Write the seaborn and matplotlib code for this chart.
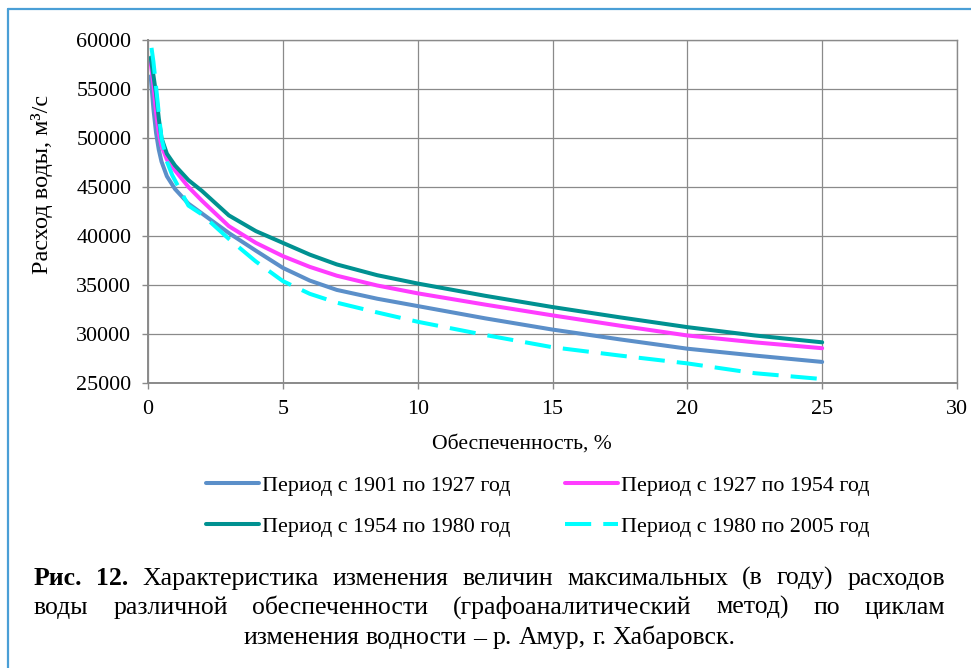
import matplotlib
matplotlib.use("Agg")
import matplotlib.pyplot as plt
from matplotlib.lines import Line2D
import numpy as np
import pandas as pd
import seaborn as sns

# ---------------- data ----------------
periods = ["Период с 1901 по 1927 год", "Период с 1927 по 1954 год",
           "Период с 1954 по 1980 год", "Период с 1980 по 2005 год"]
colors = ["#5b8fc9", "#ff3cff", "#009191", "#00ffff"]

x_1901 = [0.1, 0.2, 0.3, 0.4, 0.5, 0.7, 1, 1.5, 2, 3, 4, 5, 6, 7, 8.5, 10, 12.5, 15, 17.5, 20, 22.5, 25]
y_1901 = [56300, 53000, 50500, 48800, 47600, 46100, 44800, 43300, 42300, 40300, 38500, 36750, 35450,
          34500, 33600, 32850, 31600, 30450, 29450, 28500, 27800, 27150]

x_1927 = [0.1, 0.2, 0.3, 0.4, 0.5, 0.7, 1, 1.5, 2, 3, 4, 5, 6, 7, 8.5, 10, 12.5, 15, 17.5, 20, 22.5, 25]
y_1927 = [57700, 55500, 52600, 50500, 49200, 47800, 46700, 45000, 43600, 41000, 39300, 37950, 36850,
          35950, 34950, 34150, 33000, 31900, 30850, 29850, 29150, 28550]

x_1954 = [0.1, 0.2, 0.3, 0.4, 0.5, 0.7, 1, 1.5, 2, 3, 4, 5, 6, 7, 8.5, 10, 12.5, 15, 17.5, 20, 22.5, 25]
y_1954 = [58200, 56400, 54500, 52000, 50000, 48400, 47200, 45700, 44600, 42100, 40500, 39300, 38100,
          37100, 36000, 35150, 33900, 32750, 31700, 30700, 29850, 29150]

x_1980 = [0.13, 0.2, 0.3, 0.4, 0.5, 0.7, 0.9, 1.5, 2, 3, 4, 5, 6, 7, 8.5, 10, 12.5, 15, 17.5, 20, 22.5, 24.8]
y_1980 = [59200, 57800, 55200, 52500, 50000, 47600, 46200, 43100, 42200, 39700, 37400, 35400, 34100,
          33200, 32200, 31250, 29900, 28650, 27800, 27000, 26000, 25450]

x_ticks = [0, 5, 10, 15, 20, 25, 30]
y_ticks = [25000, 30000, 35000, 40000, 45000, 50000, 55000, 60000]

x_label = "Обеспеченность, %"
y_label = "Расход воды, м³/с"

caption_lines = [
    [("Рис.", True), ("12.", True), ("Характеристика", False), ("изменения", False), ("величин", False),
     ("максимальных", False), ("(в", False), ("году)", False), ("расходов", False)],
    [("воды", False), ("различной", False), ("обеспеченности", False), ("(графоаналитический", False),
     ("метод)", False), ("по", False), ("циклам", False)],
    [("изменения", False), ("водности", False), ("–", False), ("р.", False), ("Амур,", False),
     ("г.", False), ("Хабаровск.", False)],
]

# ---------------- figure ----------------
W, H = 971, 668
sns.set_theme(style="whitegrid")
plt.rcParams['font.family'] = ['Liberation Serif', 'DejaVu Serif']
plt.rcParams['text.color'] = 'black'

fig = plt.figure(figsize=(W / 100, H / 100), dpi=100)
fig.patch.set_facecolor("white")

ax = fig.add_axes([148 / W, 1 - 383 / H, (957 - 148) / W, (383 - 40) / H])

frames = []
for name, xs, ys in zip(periods, [x_1901, x_1927, x_1954, x_1980], [y_1901, y_1927, y_1954, y_1980]):
    frames.append(pd.DataFrame({"x": xs, "y": ys, "period": name}))
df = pd.concat(frames, ignore_index=True)

palette = dict(zip(periods, colors))
dashes = {p: "" for p in periods}
dashes[periods[3]] = (6.5, 3.0)

sns.lineplot(data=df, x="x", y="y", hue="period", style="period", hue_order=periods,
             style_order=periods, palette=palette, dashes=dashes, linewidth=2.9,
             estimator=None, sort=True, legend=False, ax=ax)
for ln in ax.lines:
    ln.set_solid_capstyle("round")
    ln.set_solid_joinstyle("round")
    ln.set_dash_capstyle("butt")

ax.set_xlim(0, 30)
ax.set_ylim(25000, 60000)
ax.set_xticks(x_ticks)
ax.set_yticks(y_ticks)
ax.set_xticklabels([str(v) for v in x_ticks])
ax.set_yticklabels([str(v) for v in y_ticks])
ax.set_xlabel("")
ax.set_ylabel("")
ax.set_facecolor("white")
ax.grid(True, color="#8a8a8a", linewidth=0.9)
for s in ax.spines.values():
    s.set_color("#8a8a8a")
    s.set_linewidth(1.0)
ax.spines["left"].set_linewidth(1.4)
ax.spines["bottom"].set_linewidth(1.4)
ax.tick_params(axis="both", which="major", length=4, width=1, color="#8a8a8a",
               labelsize=15.8, labelcolor="black", direction="out")
ax.tick_params(axis="y", pad=8)
ax.tick_params(axis="x", pad=8)
ax.xaxis.set_ticks_position("bottom")
ax.yaxis.set_ticks_position("left")

# axis titles
fig.text(522 / W, 1 - 444 / H, x_label, ha="center", va="center", fontsize=15.6)
fig.text(42 / W, 1 - 184 / H, y_label, ha="center", va="center", rotation=90, fontsize=17.5)

# legend (row-wise order)
h = ax.lines[:4]
order = [0, 2, 1, 3]
fig.legend([h[i] for i in order], [periods[i] for i in order], loc="center",
           bbox_to_anchor=(538 / W, 1 - 506 / H), ncol=2, frameon=False, fontsize=15.8,
           handlelength=2.4, handletextpad=0.15, columnspacing=2.5, labelspacing=0.95)

# outer frame (top and left visible)
fc = "#4a9fd6"
fig.add_artist(Line2D([8 / W, 8 / W], [1 - 9 / H, 0], transform=fig.transFigure, color=fc, lw=1.6))
fig.add_artist(Line2D([8 / W, 1], [1 - 9 / H, 1 - 9 / H], transform=fig.transFigure, color=fc, lw=1.6))

# caption with justification
fig.canvas.draw()
renderer = fig.canvas.get_renderer()


def word_width(word, bold, fs):
    t = fig.text(0, 0, word, fontsize=fs, fontweight="bold" if bold else "normal")
    w = t.get_window_extent(renderer).width
    t.remove()
    return w


left_px, right_px = 34, 945
target = right_px - left_px
fs = 18.5
space = word_width("a a", False, fs) - 2 * word_width("a", False, fs)

line_base = [585, 614, 644]
for li, words in enumerate(caption_lines):
    ws = [word_width(w, b, fs) for w, b in words]
    if li < 2:
        gap = (target - sum(ws)) / (len(ws) - 1)
        x = left_px
    else:
        gap = space
        total = sum(ws) + gap * (len(ws) - 1)
        x = (left_px + right_px) / 2 - total / 2
    for (w, b), ww in zip(words, ws):
        fig.text(x / W, 1 - line_base[li] / H, w, fontsize=fs,
                 fontweight="bold" if b else "normal", ha="left", va="baseline")
        x += ww + gap

fig.savefig("out.png", dpi=100, facecolor="white")
